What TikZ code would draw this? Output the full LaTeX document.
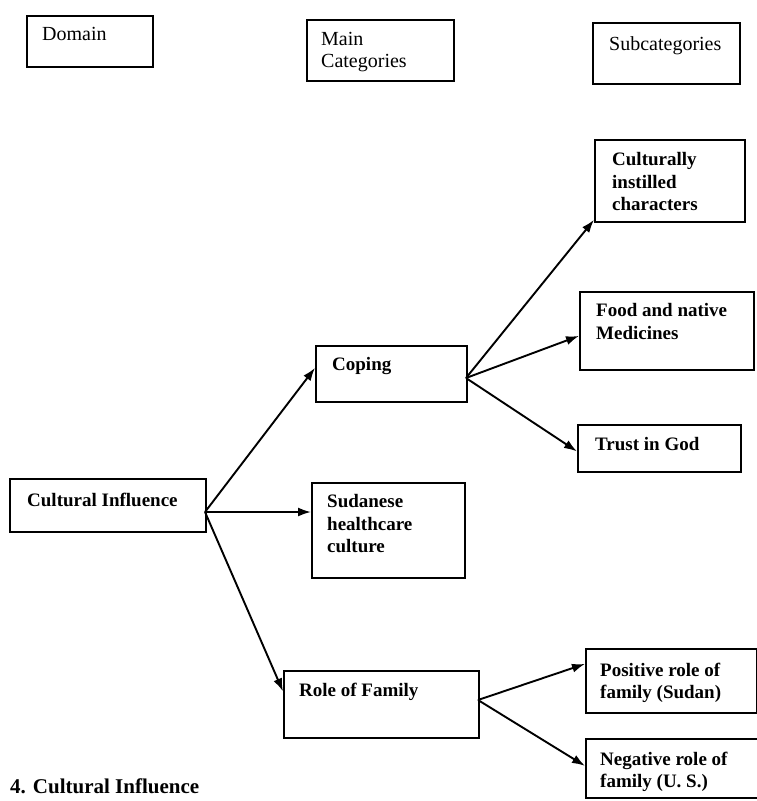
\documentclass[tikz,border=0pt]{standalone}
\usepackage{fontspec}
\setmainfont{Liberation Serif}
\usepackage{tikz}
\usetikzlibrary{positioning,calc,arrows.meta}

\tikzset{
    catbox/.style={draw, line width=1.8pt, anchor=north west, inner sep=0pt},
    lbl/.style={anchor=north west, inner sep=0pt, align=left, font=\fontsize{19}{22.5}\selectfont\bfseries},
    hdr/.style={anchor=north west, inner sep=0pt, align=left, font=\fontsize{20}{21.5}\selectfont},
    link/.style={-{Latex[length=13pt,width=9pt]}, line width=1.9pt}
}

\begin{document}
\begin{tikzpicture}[x=1pt, y=-1pt]
    \useasboundingbox (0,0) rectangle (757,801);
    \clip (0,0) rectangle (757,801);

    % boxes: name/x/y/width/height
    \foreach \n/\x/\y/\w/\h in {dom/26/15/126/51, maincat/306/19/147/61, subcat/592/22/147/61,
        ci/9/478/196/53, coping/315/345/151/56, sudan/311/482/153/95, role/283/670/195/67,
        cult/594/139/150/82, food/579/291/174/78, trust/577/424/163/47,
        pos/585/648/171/64, neg/585/738/177/59} {
        \node[catbox, minimum width=\w pt, minimum height=\h pt] (\n) at (\x,\y) {};
    }

    % column headings
    \node[hdr] (dom-t) at (42,27.5) {Domain};
    \node[hdr] (maincat-t) at (321,32.5) {Main\\Categories};
    \node[hdr] (subcat-t) at (609,36.5) {Subcategories};

    % box texts
    \node[lbl] (ci-t) at (27,492.5) {Cultural Influence};
    \node[lbl] (coping-t) at (332,357.5) {Coping};
    \node[lbl] (sudan-t) at (327,494.5) {Sudanese\\healthcare\\culture};
    \node[lbl] (role-t) at (299,682.5) {Role of Family};
    \node[lbl] (cult-t) at (612,152.5) {Culturally\\instilled\\characters};
    \node[lbl] (food-t) at (596,303.5) {Food and native\\Medicines};
    \node[lbl] (trust-t) at (595,437.5) {Trust in God};
    \node[lbl] (pos-t) at (600,662.5) {Positive role of\\family (Sudan)};
    \node[lbl] (neg-t) at (600,751.5) {Negative role of\\family (U. S.)};

    % caption at the foot
    \node[lbl, font=\fontsize{21}{24}\selectfont\bfseries] (caption) at (10,779) {4. Cultural Influence};

    % arrows
    \coordinate (ci-out) at (205,512);
    \coordinate (coping-out) at (466,378);
    \coordinate (role-out) at (478,700);

    \draw[link] (ci-out) -- ([yshift=6pt]coping.west);
    \draw[link] (ci-out) -- (ci-out -| sudan.west);
    \draw[link] (ci-out) -- ([yshift=13pt]role.west);

    \draw[link] (coping-out) -- ([yshift=3pt]cult.south west);
    \draw[link] (coping-out) -- ([yshift=-5pt]food.west);
    \draw[link] (coping-out) -- ([yshift=-3pt]trust.west);

    \draw[link] (role-out) -- ([yshift=17pt]pos.west);
    \draw[link] (role-out) -- ([yshift=2.5pt]neg.west);
\end{tikzpicture}
\end{document}
